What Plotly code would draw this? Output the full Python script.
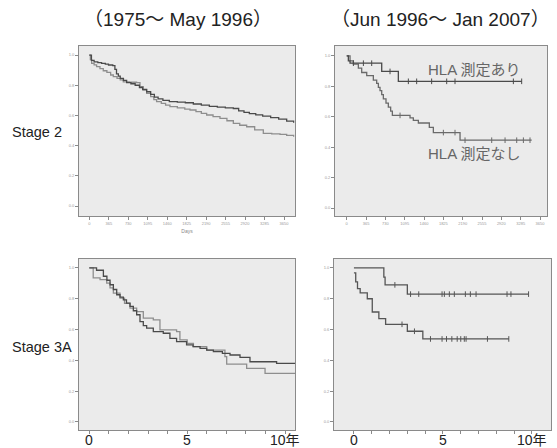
import plotly.graph_objects as go

# ---------------- data ----------------
# Top-left: Stage 2, 1975-May 1996 (days)
tl_dark_t = [0, 40, 90, 160, 230, 300, 360, 440, 480, 510, 545, 580, 640, 700, 780, 860, 940, 1000, 1075, 1150,
             1220, 1290, 1380, 1500, 1650, 1800, 1950, 2100, 2250, 2400, 2550, 2700, 2800, 2900, 3000, 3120,
             3250, 3400, 3550, 3700, 3830]
tl_dark_s = [1.0, 0.965, 0.955, 0.950, 0.945, 0.940, 0.934, 0.930, 0.905, 0.875, 0.860, 0.845, 0.832, 0.818, 0.810,
             0.800, 0.785, 0.772, 0.757, 0.740, 0.722, 0.710, 0.700, 0.692, 0.688, 0.684, 0.676, 0.668, 0.660,
             0.655, 0.650, 0.646, 0.630, 0.620, 0.612, 0.604, 0.596, 0.585, 0.575, 0.562, 0.552]
tl_light_t = [0, 20, 44, 90, 137, 200, 262, 330, 400, 450, 520, 580, 637, 750, 887, 950, 1010, 1075, 1150, 1210,
              1262, 1350, 1430, 1512, 1650, 1790, 1888, 2000, 2100, 2200, 2320, 2450, 2580, 2700, 2820, 2950,
              3100, 3262, 3420, 3575, 3700, 3830]
tl_light_s = [1.0, 0.97, 0.945, 0.935, 0.923, 0.91, 0.896, 0.885, 0.868, 0.857, 0.845, 0.835, 0.823, 0.82, 0.817,
              0.79, 0.77, 0.746, 0.725, 0.705, 0.691, 0.68, 0.668, 0.658, 0.65, 0.642, 0.636, 0.625, 0.614, 0.603,
              0.592, 0.581, 0.565, 0.547, 0.535, 0.525, 0.505, 0.481, 0.478, 0.475, 0.468, 0.459]

# Top-right: Stage 2, Jun 1996-Jan 2007 (days)
tr_hla_t = [0, 31, 63, 661, 975, 3304]
tr_hla_s = [1.0, 0.967, 0.952, 0.898, 0.833, 0.833]
tr_hla_cens_t = [126, 315, 472, 818, 1164, 1321, 1604, 1888, 2045, 3147, 3304]
tr_hla_cens_s = [0.952, 0.952, 0.952, 0.898, 0.833, 0.833, 0.833, 0.833, 0.833, 0.833, 0.833]
tr_no_t = [0, 63, 126, 220, 283, 378, 503, 566, 598, 629, 661, 692, 742, 786, 830, 862, 1196, 1258, 1353, 1560,
           1636, 2140, 3493]
tr_no_s = [1.0, 0.967, 0.946, 0.920, 0.891, 0.870, 0.841, 0.820, 0.793, 0.772, 0.746, 0.717, 0.689, 0.663, 0.637,
           0.609, 0.593, 0.576, 0.559, 0.530, 0.496, 0.446, 0.446]
tr_no_cens_t = [1007, 1825, 2045, 2234, 2738, 2990, 3210, 3336, 3461]
tr_no_cens_s = [0.609, 0.496, 0.496, 0.446, 0.446, 0.446, 0.446, 0.446, 0.446]

# Bottom-left: Stage 3A, 1975-May 1996 (years)
bl_dark_t = [0, 0.37, 0.72, 0.9, 1.06, 1.23, 1.40, 1.57, 1.74, 1.9, 2.08, 2.25, 2.42, 2.59, 2.76, 2.93, 3.27, 3.78,
             4.12, 4.46, 4.97, 5.3, 5.66, 6.0, 6.34, 6.8, 7.19, 7.70, 8.21, 8.89, 9.57, 10.51]
bl_dark_s = [1.0, 0.985, 0.946, 0.92, 0.891, 0.86, 0.826, 0.81, 0.793, 0.772, 0.75, 0.722, 0.696, 0.652, 0.625,
             0.609, 0.587, 0.576, 0.543, 0.522, 0.50, 0.489, 0.478, 0.467, 0.457, 0.446, 0.435, 0.42, 0.391, 0.391,
             0.380, 0.380]
bl_light_t = [0, 0.2, 0.55, 0.89, 1.06, 1.23, 1.57, 1.8, 2.08, 2.42, 2.76, 3.27, 3.61, 4.46, 4.63, 5.0, 5.32, 6.0,
              6.93, 7.02, 8.04, 8.98, 10.51]
bl_light_s = [1.0, 0.935, 0.924, 0.902, 0.87, 0.837, 0.804, 0.77, 0.739, 0.717, 0.674, 0.663, 0.598, 0.587, 0.533,
              0.51, 0.489, 0.467, 0.424, 0.376, 0.348, 0.315, 0.315]

# Bottom-right: Stage 3A, Jun 1996-Jan 2007 (years)
br_hla_t = [0, 1.68, 1.75, 3.0, 9.81]
br_hla_s = [1.0, 0.94, 0.89, 0.83, 0.83]
br_hla_cens_t = [2.3, 3.18, 3.64, 4.95, 5.08, 5.36, 5.64, 6.26, 6.54, 6.86, 8.6, 8.82, 9.81]
br_hla_cens_s = [0.89] + [0.83] * 12
br_no_t = [0, 0.1, 0.2, 0.35, 0.75, 1.03, 1.40, 1.78, 3.0, 3.87, 8.7]
br_no_s = [0.968, 0.909, 0.866, 0.838, 0.80, 0.714, 0.671, 0.634, 0.589, 0.539, 0.539]
br_no_cens_t = [2.7, 3.4, 4.3, 4.95, 5.2, 5.5, 5.8, 6.0, 6.2, 6.3, 7.5, 8.7]
br_no_cens_s = [0.634, 0.589] + [0.539] * 10

col_titles = ["（1975～ May 1996）", "（Jun 1996～ Jan 2007）"]
row_titles = ["Stage 2", "Stage 3A"]
hla_labels = ["HLA 測定あり", "HLA 測定なし"]
y_ticks = [0.0, 0.2, 0.4, 0.6, 0.8, 1.0]
day_ticks = [0, 365, 730, 1095, 1460, 1825, 2190, 2555, 2920, 3285, 3650]
year_ticks = list(range(11))
year_label_vals = [0, 5, 10]
year_label_text = ["0", "5", "10年"]

# ---------------- figure ----------------
W, H = 557, 448
DARK = "#4a4a4a"
LIGHT = "#8e8e8e"
FONT = "Liberation Sans, Arial, Noto Sans CJK JP, sans-serif"

fig = go.Figure()


def step(t, s, color, xa, ya, width=1.3):
    fig.add_trace(go.Scatter(x=t, y=s, mode="lines", line=dict(color=color, width=width, shape="hv"),
                             xaxis=xa, yaxis=ya, showlegend=False, hoverinfo="skip"))


def cens(t, s, color, xa, ya):
    fig.add_trace(go.Scatter(x=t, y=s, mode="markers",
                             marker=dict(symbol="line-ns-open", size=4, color=color,
                                         line=dict(color=color, width=1)),
                             xaxis=xa, yaxis=ya, showlegend=False, hoverinfo="skip"))


step(tl_light_t, tl_light_s, LIGHT, "x", "y")
step(tl_dark_t, tl_dark_s, DARK, "x", "y")
step(tr_no_t, tr_no_s, "#6a6a6a", "x2", "y2")
cens(tr_no_cens_t, tr_no_cens_s, "#6a6a6a", "x2", "y2")
step(tr_hla_t, tr_hla_s, DARK, "x2", "y2")
cens(tr_hla_cens_t, tr_hla_cens_s, DARK, "x2", "y2")
step(bl_light_t, bl_light_s, LIGHT, "x3", "y3")
step(bl_dark_t, bl_dark_s, DARK, "x3", "y3")
step(br_no_t, br_no_s, "#555555", "x4", "y4")
cens(br_no_cens_t, br_no_cens_s, "#555555", "x4", "y4")
step(br_hla_t, br_hla_s, "#555555", "x4", "y4")
cens(br_hla_cens_t, br_hla_cens_s, "#555555", "x4", "y4")

frame = dict(showline=True, mirror=True, linecolor="#8a8a8a", linewidth=1, showgrid=False, zeroline=False,
             ticks="outside", ticklen=3, tickcolor="#8a8a8a", tickwidth=1)
tiny = dict(size=4, color="#9a9a9a", family=FONT)

dom_l = [79 / W, 295 / W]
dom_tr = [335 / W, 547 / W]
dom_br = [334 / W, 551 / W]
dom_top = [1 - 216 / H, 1 - 46 / H]
dom_bot = [1 - 430 / H, 1 - 259 / H]

yaxis_common = dict(frame, tickvals=y_ticks, tickformat=".1f", tickfont=tiny)

fig.update_layout(
    width=W, height=H, margin=dict(l=0, r=0, t=0, b=0),
    paper_bgcolor="white", plot_bgcolor="#ebebeb",
    font=dict(family=FONT),
    xaxis=dict(frame, domain=dom_l, range=[-193, 3856], tickvals=day_ticks, tickfont=tiny, anchor="y",
               title=dict(text="Days", font=dict(size=5, color="#888888", family=FONT), standoff=4)),
    yaxis=dict(yaxis_common, domain=dom_top, range=[-0.066, 1.06], anchor="x"),
    xaxis2=dict(frame, domain=dom_tr, range=[-221, 3782], tickvals=day_ticks, tickfont=tiny, anchor="y2"),
    yaxis2=dict(yaxis_common, domain=dom_top, range=[-0.052, 1.065], anchor="x2"),
    xaxis3=dict(frame, domain=dom_l, range=[-0.526, 10.51], tickvals=year_ticks, showticklabels=False,
                anchor="y3"),
    yaxis3=dict(yaxis_common, domain=dom_bot, range=[-0.052, 1.058], anchor="x3"),
    xaxis4=dict(frame, domain=dom_br, range=[-1.12, 11.07], tickvals=year_ticks, showticklabels=False,
                anchor="y4"),
    yaxis4=dict(yaxis_common, domain=dom_bot, range=[-0.052, 1.058], anchor="x4"),
)

# year labels of the bottom row, positioned on each panel's own x scale
for xa in ["x3", "x4"]:
    for v, t in zip(year_label_vals, year_label_text):
        fig.add_annotation(xref=xa, yref="paper", x=v, y=1 - 440 / H, text=t, showarrow=False,
                           xanchor="center", yanchor="middle", font=dict(size=14, color="#222222", family=FONT))

for txt, x in [(col_titles[0], 178), (col_titles[1], 440)]:
    fig.add_annotation(xref="paper", yref="paper", x=x / W, y=1 - 20 / H, text=txt, showarrow=False,
                       xanchor="center", yanchor="middle", font=dict(size=19, color="#222222", family=FONT))
for txt, x, y in [(row_titles[0], 37, 132), (row_titles[1], 42, 347)]:
    fig.add_annotation(xref="paper", yref="paper", x=x / W, y=1 - y / H, text=txt, showarrow=False,
                       xanchor="center", yanchor="middle", font=dict(size=14.5, color="#222222", family=FONT))
fig.add_annotation(xref="paper", yref="paper", x=474 / W, y=1 - 69 / H, text=hla_labels[0], showarrow=False,
                   xanchor="center", yanchor="middle", font=dict(size=15, color="#666666", family=FONT))
fig.add_annotation(xref="paper", yref="paper", x=474 / W, y=1 - 153 / H, text=hla_labels[1], showarrow=False,
                   xanchor="center", yanchor="middle", font=dict(size=15, color="#666666", family=FONT))

fig.write_html("out.html", config={"displayModeBar": False},
               post_script="document.body.style.margin='0';")
